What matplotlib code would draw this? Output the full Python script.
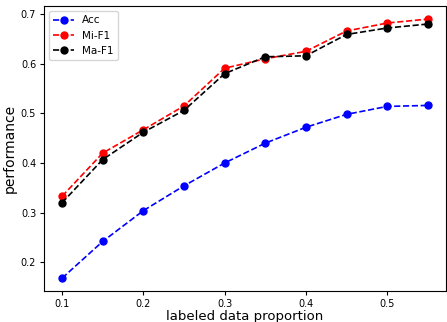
import matplotlib
matplotlib.use('Agg')
import matplotlib.pyplot as plt

# labeled data proportion
prop = [0.1, 0.15, 0.2, 0.25, 0.3, 0.35, 0.4, 0.45, 0.5, 0.55]
acc = [0.168, 0.242, 0.304, 0.354, 0.400, 0.440, 0.472, 0.498, 0.514, 0.516]
mi_f1 = [0.333, 0.420, 0.467, 0.515, 0.591, 0.610, 0.625, 0.666, 0.682, 0.690]
ma_f1 = [0.320, 0.407, 0.462, 0.506, 0.580, 0.614, 0.616, 0.659, 0.672, 0.680]

fig = plt.figure(figsize=(4.47, 3.22), dpi=100)
ax = fig.add_axes([0.098, 0.096, 0.9, 0.885])

ax.plot(prop, acc, 'b--o', markersize=5, linewidth=1.2, label='Acc')
ax.plot(prop, mi_f1, 'r--o', markersize=5, linewidth=1.2, label='Mi-F1')
ax.plot(prop, ma_f1, 'k--o', markersize=5, linewidth=1.2, label='Ma-F1')

ax.set_xticks([0.1, 0.2, 0.3, 0.4, 0.5])
ax.set_yticks([0.2, 0.3, 0.4, 0.5, 0.6, 0.7])
ax.tick_params(labelsize=7, length=3, pad=2.5)
ax.set_xlabel('labeled data proportion', fontsize=9.5, labelpad=1)
ax.set_ylabel('performance', fontsize=10, labelpad=3)
ax.legend(loc='upper left', fontsize=7.5)

fig.savefig('out.png')
